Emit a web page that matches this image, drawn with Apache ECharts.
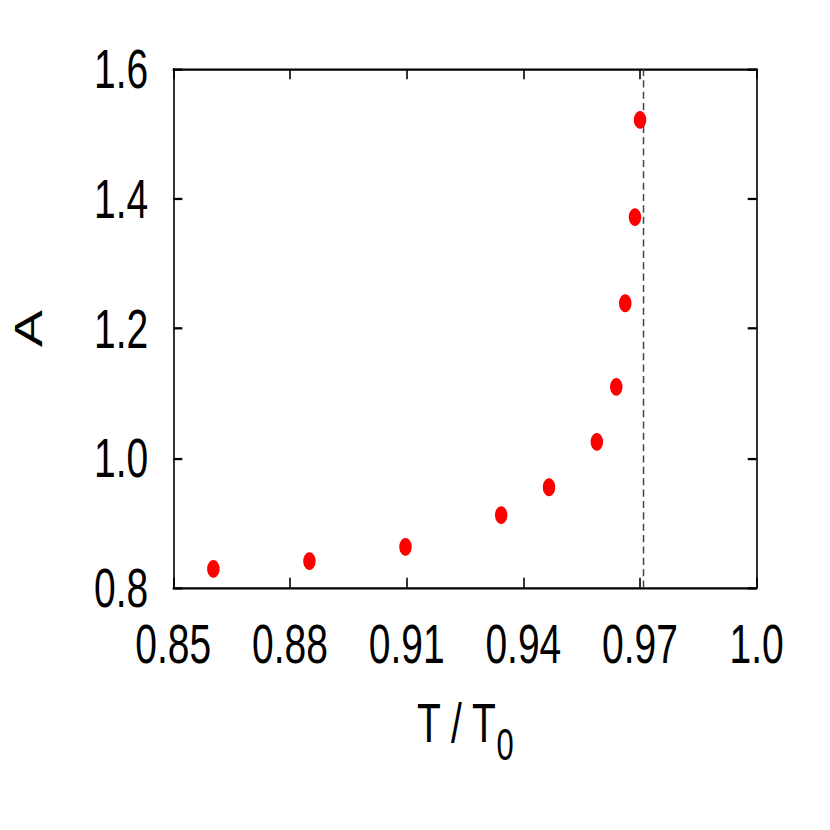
<!DOCTYPE html>
<html><head><meta charset="utf-8">
<script src="https://cdn.jsdelivr.net/npm/echarts@6/dist/echarts.min.js"></script>
<style>
html,body{margin:0;padding:0;background:#fff;overflow:hidden}
#wrap{width:830px;height:830px;overflow:hidden;background:#fff}
#c{width:830px;height:584px;transform:scaleY(1.42123);transform-origin:0 0}
</style>
</head><body><div id="wrap"><div id="c"></div></div>
<script>
// Data
const tRatio    = [0.8603, 0.8850, 0.9097, 0.9343, 0.9466, 0.9589, 0.9639, 0.9662, 0.9687, 0.9700];
const amplitude = [0.829, 0.841, 0.863, 0.912, 0.955, 1.025, 1.110, 1.239, 1.372, 1.522];
const criticalT = 0.9709;
const xTicks = [0.85, 0.88, 0.91, 0.94, 0.97, 1.0];
const xTickLabels = ['0.85', '0.88', '0.91', '0.94', '0.97', '1.0'];
const yTicks = [0.8, 1.0, 1.2, 1.4, 1.6];
const yTickLabels = ['0.8', '1.0', '1.2', '1.4', '1.6'];
const xRange = [0.85, 1.0];
const yRange = [0.8, 1.6];

const FONT = 'Liberation Sans, Arial, Helvetica, sans-serif';
function lookup(ticks, labels) {
  return v => {
    const i = ticks.findIndex(t => Math.abs(t - v) < 1e-9);
    return i >= 0 ? labels[i] : '';
  };
}
const points = tRatio.map((x, i) => [x, amplitude[i]]);
const critLine = yRange.map(y => [criticalT, y]);
const lineStyle = {color: '#000', width: 1.6};

const chart = echarts.init(document.getElementById('c'), null, {renderer: 'svg'});
chart.setOption({
  animation: false,
  backgroundColor: '#fff',
  grid: {left: 173.3, right: 73.3, top: 48.8, bottom: 170.5},
  xAxis: [{
    type: 'value', min: xRange[0], max: xRange[1], position: 'bottom',
    axisLine: {show: true, lineStyle},
    axisTick: {show: true, inside: true, length: 7, lineStyle, customValues: xTicks},
    axisLabel: {show: true, margin: 20, fontSize: 39, fontFamily: FONT, color: '#000',
      customValues: xTicks, formatter: lookup(xTicks, xTickLabels)},
    splitLine: {show: false},
    name: '{t|T / T}{s|0}', nameLocation: 'middle', nameGap: 76,
    nameTextStyle: {fontFamily: FONT, color: '#000', rich: {
      t: {fontSize: 39, fontFamily: FONT, color: '#000', verticalAlign: 'bottom', padding: [0, 0, 11, 0]},
      s: {fontSize: 31, fontFamily: FONT, color: '#000', verticalAlign: 'bottom'}
    }}
  }, {
    type: 'value', min: xRange[0], max: xRange[1], position: 'top',
    axisLine: {show: true, lineStyle},
    axisTick: {show: true, inside: true, length: 7, lineStyle, customValues: xTicks},
    axisLabel: {show: false}, splitLine: {show: false}
  }],
  yAxis: [{
    type: 'value', min: yRange[0], max: yRange[1], position: 'left',
    axisLine: {show: true, lineStyle},
    axisTick: {show: true, inside: true, length: 9, lineStyle, customValues: yTicks},
    axisLabel: {show: true, margin: 25, fontSize: 39, fontFamily: FONT, color: '#000',
      customValues: yTicks, formatter: lookup(yTicks, yTickLabels)},
    splitLine: {show: false},
    name: 'A', nameLocation: 'middle', nameGap: 125,
    nameTextStyle: {fontSize: 39, fontFamily: FONT, color: '#000'}
  }, {
    type: 'value', min: yRange[0], max: yRange[1], position: 'right',
    axisLine: {show: true, lineStyle},
    axisTick: {show: true, inside: true, length: 9, lineStyle, customValues: yTicks},
    axisLabel: {show: false}, splitLine: {show: false}
  }],
  series: [{
    type: 'line', xAxisIndex: 0, yAxisIndex: 0,
    data: critLine, showSymbol: false, symbol: 'none', silent: true,
    lineStyle: {color: '#444', width: 1.5, type: [5, 3]}, z: 1
  }, {
    type: 'scatter', xAxisIndex: 0, yAxisIndex: 0,
    data: points, symbol: 'circle', symbolSize: 12.5,
    itemStyle: {color: '#ff0000', opacity: 1}, z: 2
  }]
});
</script>
</body></html>
